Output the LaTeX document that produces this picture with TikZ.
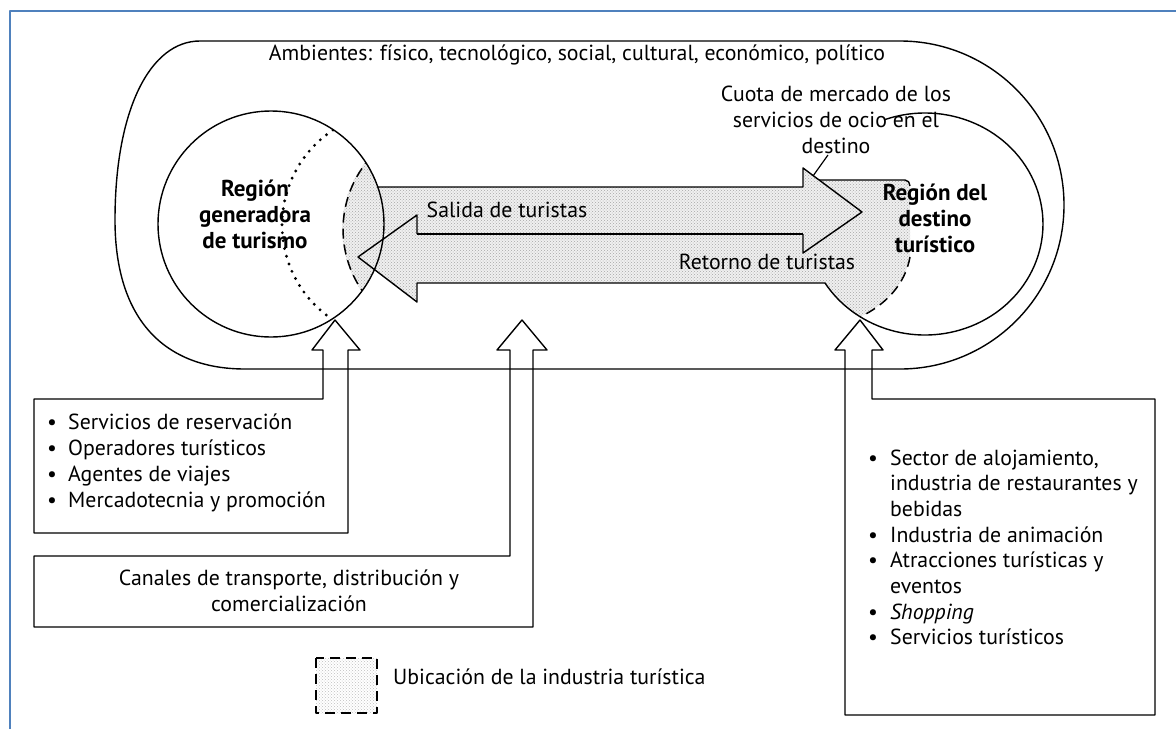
\documentclass[tikz,border=0pt]{standalone}
\usepackage{fontspec}
\setmainfont{PT Sans}
\usetikzlibrary{patterns}
\definecolor{frameblue}{RGB}{79,129,189}
\begin{document}
\begin{tikzpicture}[x=1pt,y=-1pt,line join=round,
  ln/.style={draw=black,line width=1.4pt},
  shd/.style={fill=black!6,postaction={pattern=crosshatch dots,pattern color=black!35}},
  dsh/.style={line width=1.5pt,dash pattern=on 10pt off 6pt},
  lbl/.style={font=\fontsize{21.8}{26}\selectfont,inner sep=0pt,align=center},
  bld/.style={font=\fontsize{23}{26}\selectfont\bfseries,inner sep=0pt,align=center},
  blt/.style={font=\fontsize{21.8}{26}\selectfont,inner sep=0pt,anchor=base west}]
\useasboundingbox (0,0) rectangle (1176,729);
\fill[white] (0,0) rectangle (1176,729);
\draw[frameblue,line width=2pt] (10,729) -- (10,11) -- (1176,11);

% shaded area
\begin{scope}
  \clip (271,224) circle[radius=113];
  \fill[shd] (367,160) arc[start angle=219.8,end angle=140.8,radius=107.7] -- (420,300) -- (420,150) -- cycle;
\end{scope}
\fill[shd] (370,187) -- (803,187) -- (803,168) -- (862,212) -- (803,253) -- (803,234) -- (370,234) -- cycle;
\fill[shd] (417,215) -- (417,234) -- (830,234) -- (830,283) -- (417,283) -- (417,302) -- (358,257) -- cycle;
\fill[shd] (803,168) -- (819,180) -- (906,180) -- (910,186) -- (910,257) .. controls (905,285) and (885,305) .. (860,317)
  arc[start angle=123.3,end angle=148,x radius=118,y radius=111] -- (803,283) -- cycle;

% environment outline
\draw[ln] (245,369) -- (900,369) arc[start angle=90,end angle=-90,radius=164] -- (200,41)
  .. controls (150,41) and (115,110) .. (115,220) .. controls (115,320) and (165,369) .. (245,369) -- cycle;

% regions
\draw[ln] (271,224) circle[radius=113];
\draw[ln] (884.6,119.7) arc[start angle=-110,end angle=148,x radius=118,y radius=111];
\begin{scope}
  \clip (271,224) circle[radius=113];
  \draw[line width=3.2pt,line cap=round,dash pattern=on 0pt off 8pt] (333,130) arc[start angle=236.4,end angle=123.6,radius=114];
  \draw[dsh] (372,156) arc[start angle=223,end angle=137,radius=107.7];
\end{scope}
\draw[dsh] (910,257) .. controls (905,285) and (885,305) .. (860,317);

% flow arrows
\draw[ln] (378,187) -- (803,187) -- (803,168) -- (862,212) -- (803,253) -- (803,234);
\draw[ln] (417,234) -- (803,234);
\draw[ln] (825,283) -- (417,283) -- (417,302) -- (358,257) -- (417,215) -- (417,234);
\draw[ln] (819,180) -- (905,180) to[out=0,in=90] (910,186);
\draw[line width=1.2pt] (828,155) -- (813,176);

% industry boxes with hollow arrows
\draw[ln] (34,399) -- (323,399) -- (323,350) -- (312,350) -- (335,320) -- (360,350) -- (348,350) -- (348,533) -- (34,533) -- cycle;
\draw[ln] (34,556) -- (510,556) -- (510,350) -- (497,350) -- (522,320) -- (547,350) -- (533,350) -- (533,627) -- (34,627) -- cycle;
\draw[ln] (872,399) -- (872,350) -- (883,350) -- (860,320) -- (835,350) -- (845,350) -- (845,715) -- (1155,715) -- (1155,399) -- cycle;

% legend
\fill[pattern=crosshatch dots,pattern color=black!25] (316,658) rectangle (377,713);
\draw[line width=1.3pt,dash pattern=on 10pt off 6pt] (316,658) rectangle (377,713);

% texts
\node[lbl] (amb) at (577,55) {Ambientes: físico, tecnológico, social, cultural, económico, político};
\node[lbl] (cuota) at (836,120) {Cuota de mercado de los\\servicios de ocio en el\\destino};
\node[bld] (rgen) at (255,214) {Región\\generadora\\de turismo};
\node[bld] (rdes) at (935,218) {Región del\\destino\\turístico};
\node[lbl] (sal) at (507,210) {Salida de turistas};
\node[lbl] (ret) at (767,262) {Retorno de turistas};
\node[lbl] (can) at (289,591) {Canales de transporte, distribución y\\comercialización};
\node[blt] (leg) at (393,684) {Ubicación de la industria turística};

\foreach \t [count=\i] in {Servicios de reservación,Operadores turísticos,Agentes de viajes,Mercadotecnia y promoción}{
  \node[blt] (lt\i) at (68,{422+26*(\i-1)+7}) {\t};
  \node[blt] (lb\i) at (47,{422+26*(\i-1)+7}) {\textbullet};
}
\foreach \t/\b [count=\i] in {{Sector de alojamiento,}/1,industria de restaurantes y/0,bebidas/0,Industria de animación/1,Atracciones turísticas y/1,eventos/0,\textit{Shopping}/1,Servicios turísticos/1}{
  \node[blt] (rt\i) at (890,{458+25.7*(\i-1)+7}) {\t};
  \ifnum\b=1 \node[blt] (rb\i) at (868,{458+25.7*(\i-1)+7}) {\textbullet};\fi
}
\end{tikzpicture}
\end{document}
